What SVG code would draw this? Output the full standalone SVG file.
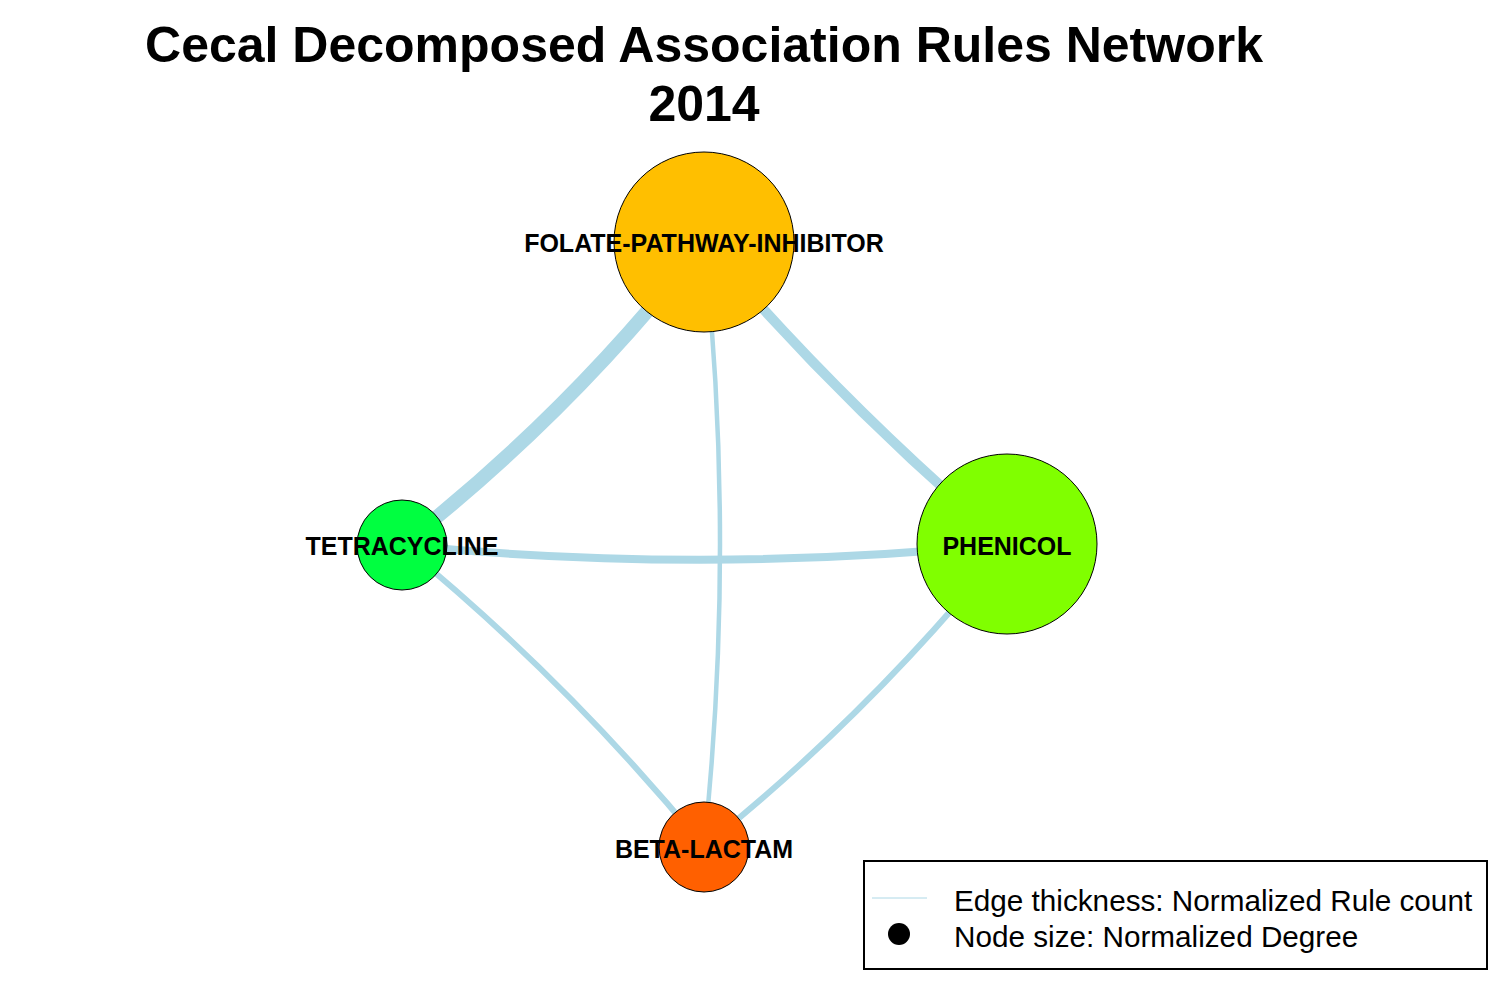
<svg xmlns="http://www.w3.org/2000/svg" width="1500" height="1000" viewBox="0 0 1500 1000">
<style>
.edge{fill:none;stroke:#ADD8E6;stroke-linecap:butt}
.node{stroke:#000;stroke-width:1}
.lbl{font-family:"Liberation Sans",Arial,sans-serif;font-weight:bold;font-size:25px;fill:#000;text-anchor:middle}
.title{font-family:"Liberation Sans",Arial,sans-serif;font-weight:bold;font-size:50px;fill:#000;text-anchor:middle}
.leg{font-family:"Liberation Sans",Arial,sans-serif;font-size:29.7px;fill:#000}
</style>
<rect width="1500" height="1000" fill="#fff"/>
<g id="title">
<text class="title" x="704" y="62">Cecal Decomposed Association Rules Network</text>
<text class="title" x="704" y="121">2014</text>
</g>
<g id="connectors">
<path class="edge" d="M402,545 Q572,412 704,242" stroke-width="14"/>
<path class="edge" d="M704,242 Q843,405 1007,544" stroke-width="10"/>
<path class="edge" d="M704,847 Q736,544 704,242" stroke-width="4.5"/>
<path class="edge" d="M402,545 Q704,575 1007,544" stroke-width="8"/>
<path class="edge" d="M704,847 Q568,681 402,545" stroke-width="6"/>
<path class="edge" d="M704,847 Q872,712 1007,544" stroke-width="6"/>
</g>
<g id="node-folate">
<circle class="node" cx="704" cy="242" r="90" fill="#FFBF00"/>
<text class="lbl" x="704" y="252">FOLATE-PATHWAY-INHIBITOR</text>
</g>
<g id="node-tetracycline">
<circle class="node" cx="402" cy="545" r="45" fill="#00FF40"/>
<text class="lbl" x="402" y="555">TETRACYCLINE</text>
</g>
<g id="node-phenicol">
<circle class="node" cx="1007" cy="544" r="90" fill="#80FF00"/>
<text class="lbl" x="1007" y="555">PHENICOL</text>
</g>
<g id="node-beta-lactam">
<circle class="node" cx="704" cy="847" r="45" fill="#FF6000"/>
<text class="lbl" x="704" y="858">BETA-LACTAM</text>
</g>
<g id="legend">
<rect x="864" y="861" width="623" height="108" fill="#fff" stroke="#000" stroke-width="2"/>
<line x1="872" y1="898" x2="927" y2="898" stroke="#ADD8E6" stroke-width="1"/>
<circle cx="899" cy="934" r="11" fill="#000"/>
<text class="leg" x="954" y="911">Edge thickness: Normalized Rule count</text>
<text class="leg" x="954" y="947">Node size: Normalized Degree</text>
</g>
</svg>
